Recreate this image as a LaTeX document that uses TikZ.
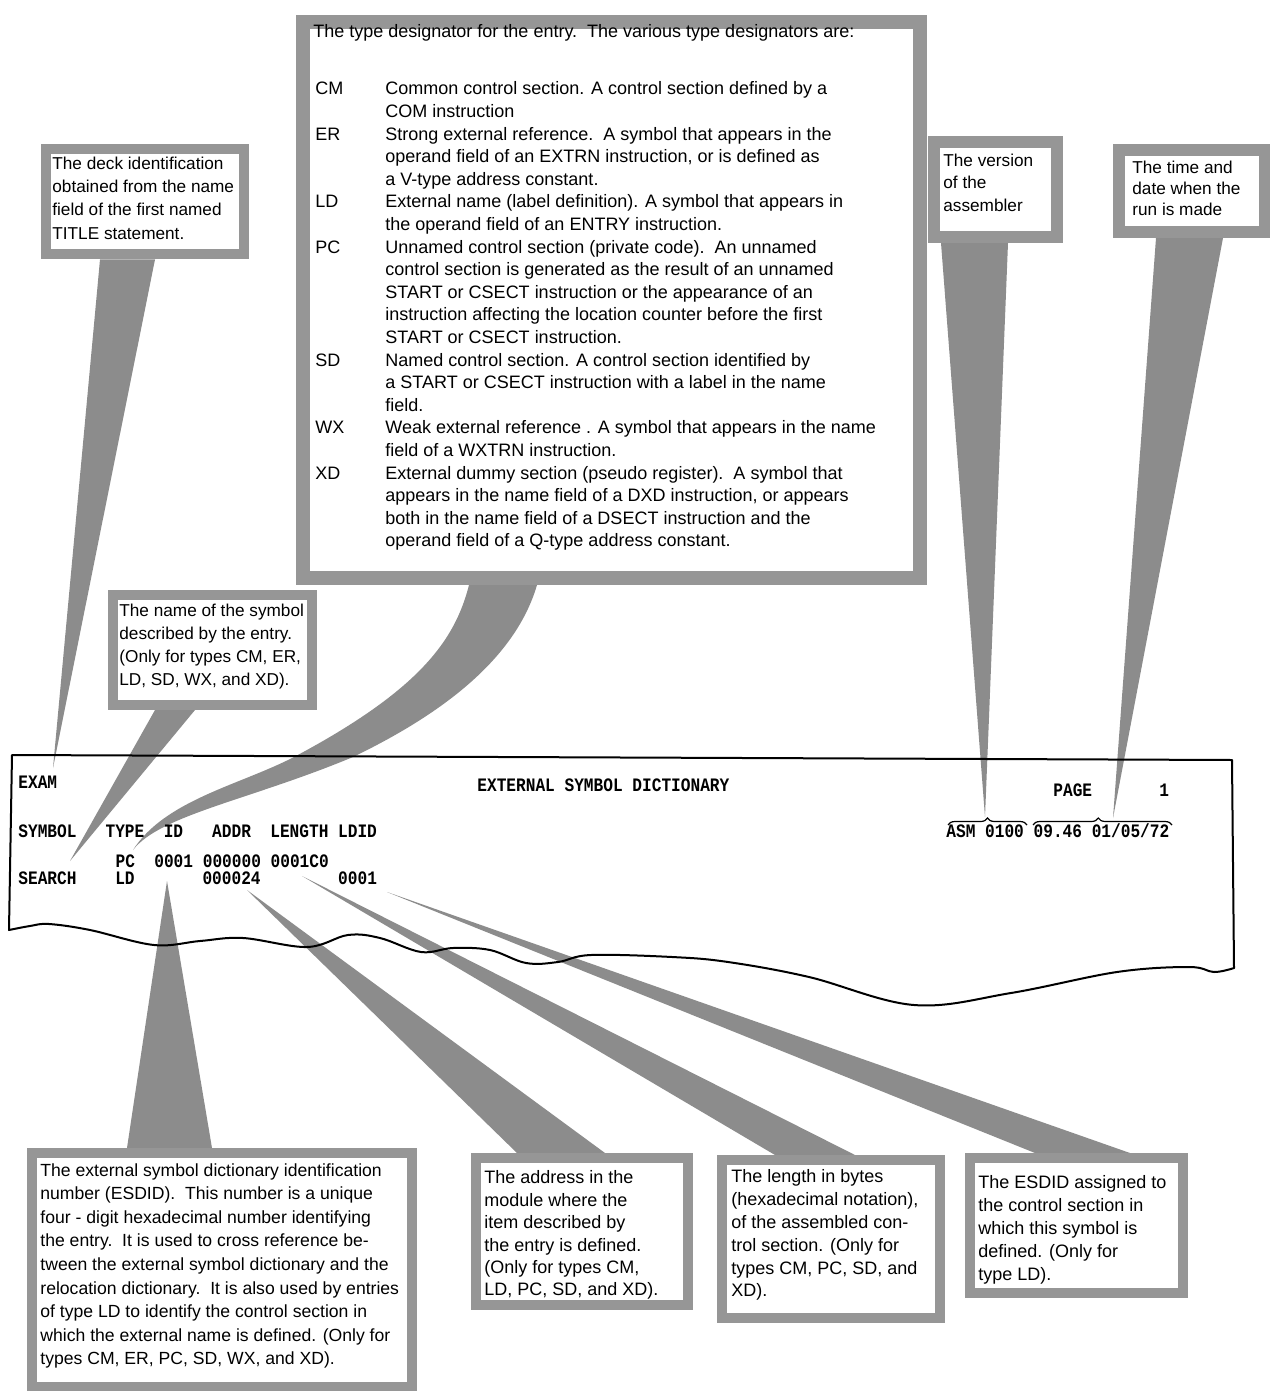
\documentclass[tikz,border=0pt]{standalone}
\usepackage{fontspec}
\usetikzlibrary{decorations.pathreplacing,calc}
\newfontfamily\boxfont{Liberation Sans}
\newfontfamily\printfont[FakeStretch=0.85]{Liberation Mono}
\definecolor{framegray}{RGB}{150,150,150}
\definecolor{wedgegray}{RGB}{140,140,140}
\pgfdeclarelayer{paperbg}
\pgfdeclarelayer{background}
\pgfsetlayers{paperbg,background,main}
\begin{document}
\begin{tikzpicture}[x=0.5pt,y=-0.5pt,
  callout/.style={draw=framegray, fill=white, line width=#1, inner sep=0pt, anchor=north west},
  wedge/.style={fill=wedgegray, draw=none},
  txt/.style 2 args={anchor=north west, inner sep=0pt, align=left, font=\boxfont\fontsize{#1}{#2}\selectfont},
  prt/.style={anchor=base west, inner sep=0pt, font=\printfont\bfseries\fontsize{9.5}{10}\selectfont},
  paper/.style={line width=1pt, draw=black, line join=round, line cap=round},
  bracket/.style={draw=black, line width=0.6pt, decorate, decoration={brace, amplitude=3.5pt, aspect=#1}}
]
\begin{pgfonlayer}{paperbg}
\fill[white] (0,0) rectangle (1269,1391);
\end{pgfonlayer}
\useasboundingbox (0,0) rectangle (1269,1391);

% ---------- callout boxes ----------
\node[callout=5pt, minimum width=99pt, minimum height=52.5pt] (deck) at (40.5,144.5) {};
\node[callout=7pt, minimum width=308.5pt, minimum height=278pt] (big) at (296,15) {};
\node[callout=5pt, minimum width=99.5pt, minimum height=55pt] (name) at (108,590) {};
\node[callout=6pt, minimum width=61.5pt, minimum height=47.5pt] (version) at (928,136) {};
\node[callout=6pt, minimum width=73pt, minimum height=41pt] (time) at (1113,144) {};
\node[callout=5pt, minimum width=190pt, minimum height=117pt] (esdid) at (27,1148) {};
\node[callout=5pt, minimum width=106pt, minimum height=73.5pt] (addr) at (471,1153) {};
\node[callout=5pt, minimum width=109pt, minimum height=79pt] (length) at (717,1155) {};
\node[callout=5pt, minimum width=106.5pt, minimum height=67.5pt] (ldid) at (965,1153) {};

% ---------- texts ----------
\node[txt={8.6}{11.65}] (deckt) at (52,156.5) {The deck identification\\obtained from the name\\field of the first named\\TITLE statement.};
\node[txt={9}{11.3}] (bigtitle) at (313,24) {The type designator for the entry.\ \ The various type designators are:};
\node[txt={9}{11.3}] (bigbody) at (315,81.5) {%
\makebox[35pt][l]{CM}Common control section. A control section defined by a\\
\hspace*{35pt}COM instruction\\
\makebox[35pt][l]{ER}Strong external reference.\ \ A symbol that appears in the\\
\hspace*{35pt}operand field of an EXTRN instruction, or is defined as\\
\hspace*{35pt}a V-type address constant.\\
\makebox[35pt][l]{LD}External name (label definition). A symbol that appears in\\
\hspace*{35pt}the operand field of an ENTRY instruction.\\
\makebox[35pt][l]{PC}Unnamed control section (private code).\ \ An unnamed\\
\hspace*{35pt}control section is generated as the result of an unnamed\\
\hspace*{35pt}START or CSECT instruction or the appearance of an\\
\hspace*{35pt}instruction affecting the location counter before the first\\
\hspace*{35pt}START or CSECT instruction.\\
\makebox[35pt][l]{SD}Named control section. A control section identified by\\
\hspace*{35pt}a START or CSECT instruction with a label in the name\\
\hspace*{35pt}field.\\
\makebox[35pt][l]{WX}Weak external reference . A symbol that appears in the name\\
\hspace*{35pt}field of a WXTRN instruction.\\
\makebox[35pt][l]{XD}External dummy section (pseudo register).\ \ A symbol that\\
\hspace*{35pt}appears in the name field of a DXD instruction, or appears\\
\hspace*{35pt}both in the name field of a DSECT instruction and the\\
\hspace*{35pt}operand field of a Q-type address constant.};
\node[txt={8.6}{11.5}] (namet) at (119,603.5) {The name of the symbol\\described by the entry.\\(Only for types CM, ER,\\LD, SD, WX, and XD).};
\node[txt={8.6}{11.25}] (versiont) at (943,153.5) {The version\\of the\\assembler};
\node[txt={8.6}{10.5}] (timet) at (1132,160.5) {The time and\\date when the\\run is made};
\node[txt={8.8}{11.8}] (esdidt) at (40,1163) {The external symbol dictionary identification\\number (ESDID).\ \ This number is a unique\\four - digit hexadecimal number identifying\\the entry.\ \ It is used to cross reference be-\\tween the external symbol dictionary and the\\relocation dictionary.\ \ It is also used by entries\\of type LD to identify the control section in\\which the external name is defined. (Only for\\types CM, ER, PC, SD, WX, and XD).};
\node[txt={9}{11.2}] (addrt) at (484,1170.5) {The address in the\\module where the\\item described by\\the entry is defined.\\(Only for types CM,\\LD, PC, SD, and XD).};
\node[txt={9}{11.4}] (lengtht) at (731,1169.5) {The length in bytes\\(hexadecimal notation),\\of the assembled con-\\trol section. (Only for\\types CM, PC, SD, and\\XD).};
\node[txt={9}{11.4}] (ldidt) at (978,1175.5) {The ESDID assigned to\\the control section in\\which this symbol is\\defined. (Only for\\type LD).};

% ---------- pointer tips ----------
\coordinate (tipExam) at (53,768);
\coordinate (tipSymbol) at (70,861);
\coordinate (tipType) at (133,850);
\coordinate (tipAsm) at (985,817);
\coordinate (tipTime) at (1113,818);
\coordinate (tipId) at (167,881);
\coordinate (tipAddr) at (247,890);
\coordinate (tipLength) at (302,876);
\coordinate (tipLdid) at (387,892);

\begin{pgfonlayer}{background}
\fill[wedge] ([xshift=-22.25pt]deck.south) -- ([xshift=5.25pt]deck.south) -- (tipExam) -- cycle;
\fill[wedge] ([xshift=-28.75pt]name.south) -- ([xshift=-8.75pt]name.south) -- (tipSymbol) -- cycle;
\fill[wedge] ([xshift=-71.25pt]big.south) .. controls (455,640) and (420,690) .. (294,757)
   .. controls (240,785) and (165,800) .. (tipType)
   .. controls (160,815) and (250,800) .. (353,757)
   .. controls (440,715) and (515,660) .. ([xshift=-37.25pt]big.south) -- cycle;
\fill[wedge] ([xshift=-27.25pt]version.south) -- ([xshift=6.25pt]version.south) -- (tipAsm) -- cycle;
\fill[wedge] ([xshift=-18pt]time.south) -- ([xshift=15.5pt]time.south) -- (tipTime) -- cycle;
\fill[wedge] ([xshift=-47.5pt]esdid.north) -- ([xshift=-5pt]esdid.north) -- (tipId) -- cycle;
\fill[wedge] ([xshift=-32.5pt]addr.north) -- ([xshift=11.5pt]addr.north) -- (tipAddr) -- cycle;
\fill[wedge] ([xshift=-28pt]length.north) -- ([xshift=12pt]length.north) -- (tipLength) -- cycle;
\fill[wedge] ([xshift=-20.75pt]ldid.north) -- ([xshift=26.75pt]ldid.north) -- (tipLdid) -- cycle;
\end{pgfonlayer}

% ---------- printout ----------
\draw[paper] (9,930) -- (12,755) -- (1232,760) -- (1234,968);
\draw[paper] plot[smooth, tension=0.6] coordinates {(9,930) (30,926) (49,924) (90,930) (154,945) (200,941) (243,938) (307,947) (348,935) (380,938) (421,952) (453,948) (490,950) (526,963) (558,962) (591,955) (672,957) (728,962) (809,977) (914,1005) (1011,993) (1117,972) (1189,967) (1214,972) (1234,968)};

\node[prt] (exam) at (18,788) {EXAM};
\node[prt] (esdtitle) at (477,791) {EXTERNAL SYMBOL DICTIONARY};
\node[prt] (page) at (1053,796) {PAGE};
\node[prt] (pagenum) at (1159,796) {1};
\node[prt] (hdr) at (18,837.5) {SYMBOL\ \ \ TYPE\ \ ID\ \ \ ADDR\ \ LENGTH LDID};
\node[prt] (asm) at (946,837.5) {ASM 0100 09.46 01/05/72};
\node[prt] (rowpc) at (115.2,867) {PC\ \ 0001 000000 0001C0};
\node[prt] (rowsearch) at (18,884) {SEARCH\ \ \ \ LD\ \ \ \ \ \ \ 000024\ \ \ \ \ \ \ \ 0001};

\draw[bracket=0.5] (948,825) -- (1027,825);
\draw[bracket=0.47] (1033,825) -- (1172,825);
\end{tikzpicture}
\end{document}
